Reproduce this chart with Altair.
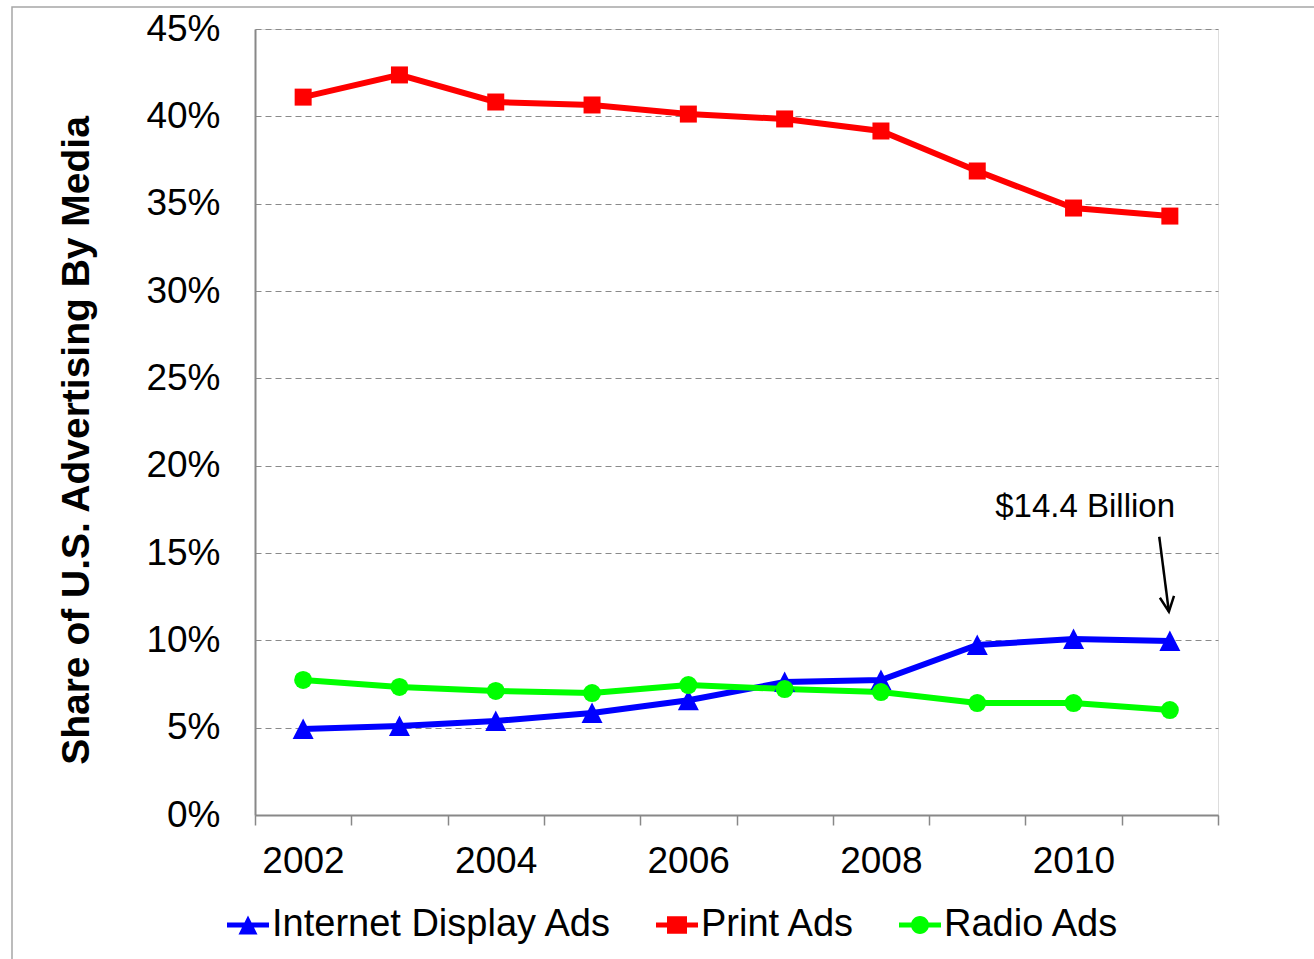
import altair as alt
import pandas as pd

# ---------------- data ----------------
YEARS = list(range(2002, 2012))
SERIES = ["Internet Display Ads", "Print Ads", "Radio Ads"]
INTERNET = [4.92, 5.10, 5.38, 5.84, 6.57, 7.61, 7.73, 9.73, 10.08, 9.96]
PRINT = [41.10, 42.37, 40.82, 40.65, 40.13, 39.85, 39.16, 36.87, 34.75, 34.29]
RADIO = [7.73, 7.33, 7.10, 6.98, 7.44, 7.21, 7.04, 6.41, 6.41, 6.01]
Y_TICKS = [0, 5, 10, 15, 20, 25, 30, 35, 40, 45]
X_EDGES = [2001.5, 2002.5, 2003.5, 2004.5, 2005.5, 2006.5, 2007.5, 2008.5, 2009.5, 2010.5, 2011.5]
Y_TITLE = "Share of U.S. Advertising By Media"

ANNOT_TEXT = ["$14.4 Billion"]
ANNOT_X = [2010.12]
ANNOT_Y = [17.65]
ARROW_X = [2010.89]
ARROW_Y = [15.93]
ARROW_X2 = [2010.99]
ARROW_Y2 = [11.64]

# ---------------- styles ----------------
FONT = "Liberation Sans, Arial, sans-serif"
COLORS = ["#0000FF", "#FF0000", "#00FF00"]
MARKERS = ["M0,-1L1,0.95L-1,0.95Z", "square", "circle"]
MARKER_SIZES = [441, 289, 324]
LEGEND_PATHS = [
    "M-2.1,-0.25H2.1V0.25H-2.1ZM0,-0.95L0.95,0.95L-0.95,0.95Z",
    "M-2.1,-0.25H2.1V0.25H-2.1ZM-1,-0.88H1V0.88H-1Z",
    "M-2.1,-0.25H2.1V0.25H-2.1ZM-0.9,0A0.9,0.9,0,1,1,0.9,0A0.9,0.9,0,1,1,-0.9,0Z",
]

rows = []
for name, vals in zip(SERIES, [INTERNET, PRINT, RADIO]):
    for yr, v in zip(YEARS, vals):
        rows.append({"year": yr, "value": v, "series": name})
df = pd.DataFrame(rows)

legend_df = pd.DataFrame({"series": SERIES, "year": [None] * 3, "value": [None] * 3})

annot = pd.DataFrame({
    "text": ANNOT_TEXT, "tx": ANNOT_X, "ty": ANNOT_Y,
    "ax": ARROW_X, "ay": ARROW_Y, "ax2": ARROW_X2, "ay2": ARROW_Y2,
})

x_scale = alt.Scale(domain=[2001.5, 2011.5], nice=False, zero=False)
y_scale = alt.Scale(domain=[0, 45], nice=False, zero=True)

x_axis = alt.Axis(
    values=X_EDGES,
    labelExpr="((datum.value - 1.5) % 2 == 0 && datum.value < 2011) ? format(datum.value + 0.5, 'd') : ''",
    labelOffset=48, labelPadding=18, tickSize=10, tickColor="#888888", tickWidth=1.5,
    domainColor="#888888", domainWidth=2, labelFont=FONT, labelFontSize=37,
    labelColor="black", grid=False, title=None, labelOverlap=False,
    labelFlush=False, labelBound=False,
)
y_axis = alt.Axis(
    values=Y_TICKS, labelExpr="datum.value + '%'", ticks=False, tickSize=0,
    labelPadding=35, grid=True, gridDash=[6, 4], gridColor="#8a8a8a", gridWidth=1,
    domainColor="#888888", domainWidth=2, labelFont=FONT, labelFontSize=37,
    labelColor="black", title=Y_TITLE, titleFont=FONT, titleFontSize=39,
    titleFontWeight="bold", titleColor="black", titleX=-179, titleY=411,
    titleBaseline="middle",
)

x_enc = alt.X("year:Q", scale=x_scale, axis=x_axis)
y_enc = alt.Y("value:Q", scale=y_scale, axis=y_axis)

frame = alt.Chart(pd.DataFrame({"k": [0]})).mark_rect(
    fillOpacity=0, stroke="#a6a6a6", strokeWidth=1.5
).encode(
    x=alt.value(-243), x2=alt.value(1100), y=alt.value(-22), y2=alt.value(1000)
)

line_layers = []
point_layers = []
for name, col, mk, sz in zip(SERIES, COLORS, MARKERS, MARKER_SIZES):
    sub = alt.Chart(df).transform_filter(alt.datum.series == name)
    line_layers.append(sub.mark_line(strokeWidth=6, color=col).encode(x=x_enc, y=y_enc))
    point_layers.append(
        sub.mark_point(
            shape=mk, filled=True, color=col, size=sz, opacity=1, strokeWidth=0
        ).encode(x=x_enc, y=y_enc)
    )

legend_def = alt.Legend(
    title=None, orient="none", legendX=-26, legendY=877, direction="horizontal",
    labelFont=FONT, labelFontSize=38, labelColor="black", labelOffset=5,
    columnPadding=43, symbolSize=400, symbolStrokeWidth=0, labelLimit=800,
    padding=0,
)

legend_layer = alt.Chart(legend_df).mark_point(
    filled=True, opacity=1, size=400
).encode(
    x=x_enc, y=y_enc,
    color=alt.Color("series:N", scale=alt.Scale(domain=SERIES, range=COLORS), legend=legend_def),
    shape=alt.Shape("series:N", scale=alt.Scale(domain=SERIES, range=LEGEND_PATHS), legend=legend_def),
)

arrow = alt.Chart(annot).mark_rule(color="black", strokeWidth=2.5).encode(
    x=alt.X("ax:Q", scale=x_scale, axis=x_axis),
    y=alt.Y("ay:Q", scale=y_scale, axis=y_axis),
    x2="ax2:Q", y2="ay2:Q",
)
arrow_head = alt.Chart(annot).mark_point(
    shape="M-0.9,-1.9L0,0L0.9,-1.9", filled=False, color="black", strokeWidth=2.5,
    size=250, angle=352.6, opacity=1,
).encode(
    x=alt.X("ax2:Q", scale=x_scale, axis=x_axis),
    y=alt.Y("ay2:Q", scale=y_scale, axis=y_axis),
)
label = alt.Chart(annot).mark_text(
    font=FONT, fontSize=33, color="black", align="center", baseline="middle"
).encode(
    x=alt.X("tx:Q", scale=x_scale, axis=x_axis),
    y=alt.Y("ty:Q", scale=y_scale, axis=y_axis),
    text="text:N",
)

chart = alt.layer(frame, *line_layers, *point_layers, legend_layer, arrow, arrow_head, label).properties(
    width=963, height=786,
    autosize=alt.AutoSizeParams(type="none"),
    padding={"left": 255, "top": 29, "right": 96, "bottom": 144},
).configure_view(stroke="#999999", strokeWidth=1).configure(background="white")

chart.save("out.html", embed_options={"renderer": "svg", "actions": False})
